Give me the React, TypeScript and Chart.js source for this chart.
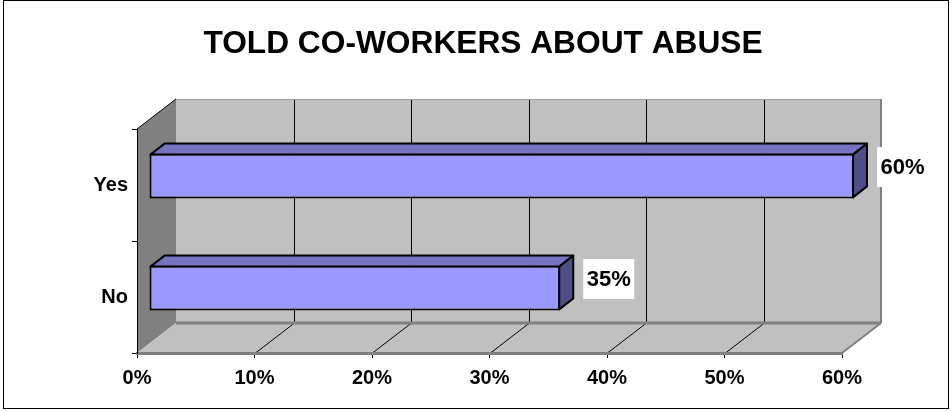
import React, { useEffect, useRef } from 'react';
import { Chart, registerables } from 'chart.js';

Chart.register(...registerables);

const chartTitle = 'TOLD CO-WORKERS ABOUT ABUSE';
const categories = ['Yes', 'No'];
const values = [60, 35];
const xMin = 0;
const xMax = 60;
const xStep = 10;

const FONT = '"Liberation Sans", Arial, Helvetica, sans-serif';
const DEPTH_X = 39;
const DEPTH_Y = -30;
const BAR_DX = 12;
const BAR_DY = -9;
const BAR_DEPTH_X = 14;
const BAR_DEPTH_Y = -11;

const line = (ctx: CanvasRenderingContext2D, x1: number, y1: number, x2: number, y2: number, color: string, w: number) => {
  ctx.beginPath();
  ctx.moveTo(x1, y1);
  ctx.lineTo(x2, y2);
  ctx.strokeStyle = color;
  ctx.lineWidth = w;
  ctx.stroke();
};

const poly = (ctx: CanvasRenderingContext2D, pts: number[][], fill: string, stroke?: string, w = 1) => {
  ctx.beginPath();
  pts.forEach((p, i) => (i ? ctx.lineTo(p[0], p[1]) : ctx.moveTo(p[0], p[1])));
  ctx.closePath();
  ctx.fillStyle = fill;
  ctx.fill();
  if (stroke) {
    ctx.strokeStyle = stroke;
    ctx.lineWidth = w;
    ctx.lineJoin = 'round';
    ctx.stroke();
  }
};

const threeD = {
  id: 'threeD',
  beforeDraw(chart: any) {
    const { ctx, chartArea: ca, scales } = chart;
    const xs = scales.x;
    ctx.save();
    ctx.fillStyle = '#ffffff';
    ctx.fillRect(0, 0, chart.width, chart.height);
    ctx.strokeStyle = '#000';
    ctx.lineWidth = 1;
    ctx.strokeRect(3.5, 0.5, 945, 408);

    // title
    ctx.fillStyle = '#000';
    ctx.font = `bold 31.7px ${FONT}`;
    ctx.textAlign = 'center';
    ctx.textBaseline = 'alphabetic';
    ctx.fillText(chartTitle, 483, 53);

    const L = ca.left, R = ca.right, T = ca.top, B = ca.bottom;
    const wl = L + DEPTH_X, wr = R + DEPTH_X, wt = T + DEPTH_Y, wb = B + DEPTH_Y;
    // back wall
    ctx.fillStyle = '#c0c0c0';
    ctx.fillRect(wl, wt, wr - wl, wb - wt);
    // left wall
    poly(ctx, [[L, T], [wl, wt], [wl, wb], [L, B]], '#808080');
    // floor
    poly(ctx, [[L, B], [R, B], [wr, wb], [wl, wb]], '#c0c0c0');
    // gridlines on wall and floor
    for (let v = xMin + xStep; v < xMax; v += xStep) {
      const px = Math.round(xs.getPixelForValue(v)) + 0.5;
      line(ctx, px + DEPTH_X, wt, px + DEPTH_X, wb, '#000', 1);
      line(ctx, px, B, px + DEPTH_X, wb, '#000', 1);
    }
    // edges
    line(ctx, wl, wt + 0.5, wr, wt + 0.5, '#a0a0a0', 1);
    line(ctx, wr, wt, wr, wb, '#808080', 2);
    line(ctx, wl, wb, wr, wb, '#808080', 3);
    line(ctx, wr, wb, R, B, '#808080', 2);
    line(ctx, L, T, wl, wt, '#000', 1);
    ctx.restore();
  },
  beforeDatasetsDraw(chart: any) {
    chart.ctx.save();
    chart.ctx.translate(BAR_DX, BAR_DY);
  },
  afterDatasetsDraw(chart: any) {
    const ctx = chart.ctx;
    ctx.restore();
    ctx.save();
    const meta = chart.getDatasetMeta(0);
    meta.data.forEach((el: any) => {
      const p = el.getProps(['x', 'y', 'base', 'height'], true);
      const x0 = Math.min(p.x, p.base) + BAR_DX;
      const x1 = Math.max(p.x, p.base) + BAR_DX;
      const yT = p.y - p.height / 2 + BAR_DY + 1;
      const yB = p.y + p.height / 2 + BAR_DY - 1;
      poly(ctx, [[x0 + 1, yT], [x1 - 1, yT], [x1 - 1 + BAR_DEPTH_X, yT + BAR_DEPTH_Y], [x0 + 1 + BAR_DEPTH_X, yT + BAR_DEPTH_Y]], '#7474c2', '#000', 2);
      poly(ctx, [[x1 - 1, yT], [x1 - 1 + BAR_DEPTH_X, yT + BAR_DEPTH_Y], [x1 - 1 + BAR_DEPTH_X, yB + BAR_DEPTH_Y], [x1 - 1, yB]], '#4f4f88', '#000', 2);
    });
    ctx.restore();
  },
  afterDraw(chart: any) {
    const ctx = chart.ctx;
    ctx.save();
    const meta = chart.getDatasetMeta(0);
    meta.data.forEach((el: any, i: number) => {
      const p = el.getProps(['x', 'y'], true);
      const frontRight = p.x + BAR_DX;
      const cy = p.y + BAR_DY - 9;
      const bx = frontRight + BAR_DEPTH_X + 9;
      const bw = 51, bh = 40;
      ctx.fillStyle = '#ffffff';
      ctx.fillRect(bx, cy - bh / 2, bw, bh);
      ctx.fillStyle = '#000';
      ctx.font = `bold 22px ${FONT}`;
      ctx.textAlign = 'center';
      ctx.textBaseline = 'middle';
      ctx.fillText(values[i] + '%', bx + bw / 2, cy + 1);
    });
    ctx.restore();
  },
};

export default function App() {
  const ref = useRef<HTMLCanvasElement>(null);
  useEffect(() => {
    if (!ref.current) return;
    const chart = new Chart(ref.current, {
      type: 'bar',
      data: {
        labels: categories,
        datasets: [
          {
            data: values,
            backgroundColor: '#9999ff',
            borderColor: '#000000',
            borderWidth: 2,
            borderSkipped: false,
            categoryPercentage: 1,
            barPercentage: 0.4,
            clip: false as any,
          },
        ],
      },
      options: {
        indexAxis: 'y',
        animation: false,
        responsive: false,
        maintainAspectRatio: false,
        layout: { padding: { left: 0, right: 110, top: 129, bottom: 0 } },
        plugins: {
          legend: { display: false },
          tooltip: { enabled: false },
          title: { display: false },
        },
        scales: {
          x: {
            min: xMin,
            max: xMax,
            afterFit: (s: any) => {
              s.height = 58;
            },
            ticks: {
              stepSize: xStep,
              color: '#000',
              padding: 8,
              font: { family: FONT, size: 20, weight: 'bold' },
              callback: (v: any) => v + '%',
            },
            grid: { drawOnChartArea: false, drawTicks: true, tickLength: 5, tickColor: '#000', tickWidth: 1 },
            border: { display: true, color: '#808080', width: 3 },
          },
          y: {
            afterFit: (s: any) => {
              s.width = 137;
            },
            ticks: {
              color: '#000',
              padding: 4,
              font: { family: FONT, size: 20, weight: 'bold' },
            },
            grid: { drawOnChartArea: false, drawTicks: true, tickLength: 5, tickColor: '#000', tickWidth: 1, offset: true },
            border: { display: true, color: '#000', width: 1 },
          },
        },
      },
      plugins: [threeD],
    });
    return () => chart.destroy();
  }, []);
  return (
    <div style={{ position: 'fixed', left: 0, top: 0, width: 952, height: 411 }}>
      <canvas ref={ref} width={952} height={411} style={{ width: 952, height: 411, display: 'block' }} />
    </div>
  );
}
